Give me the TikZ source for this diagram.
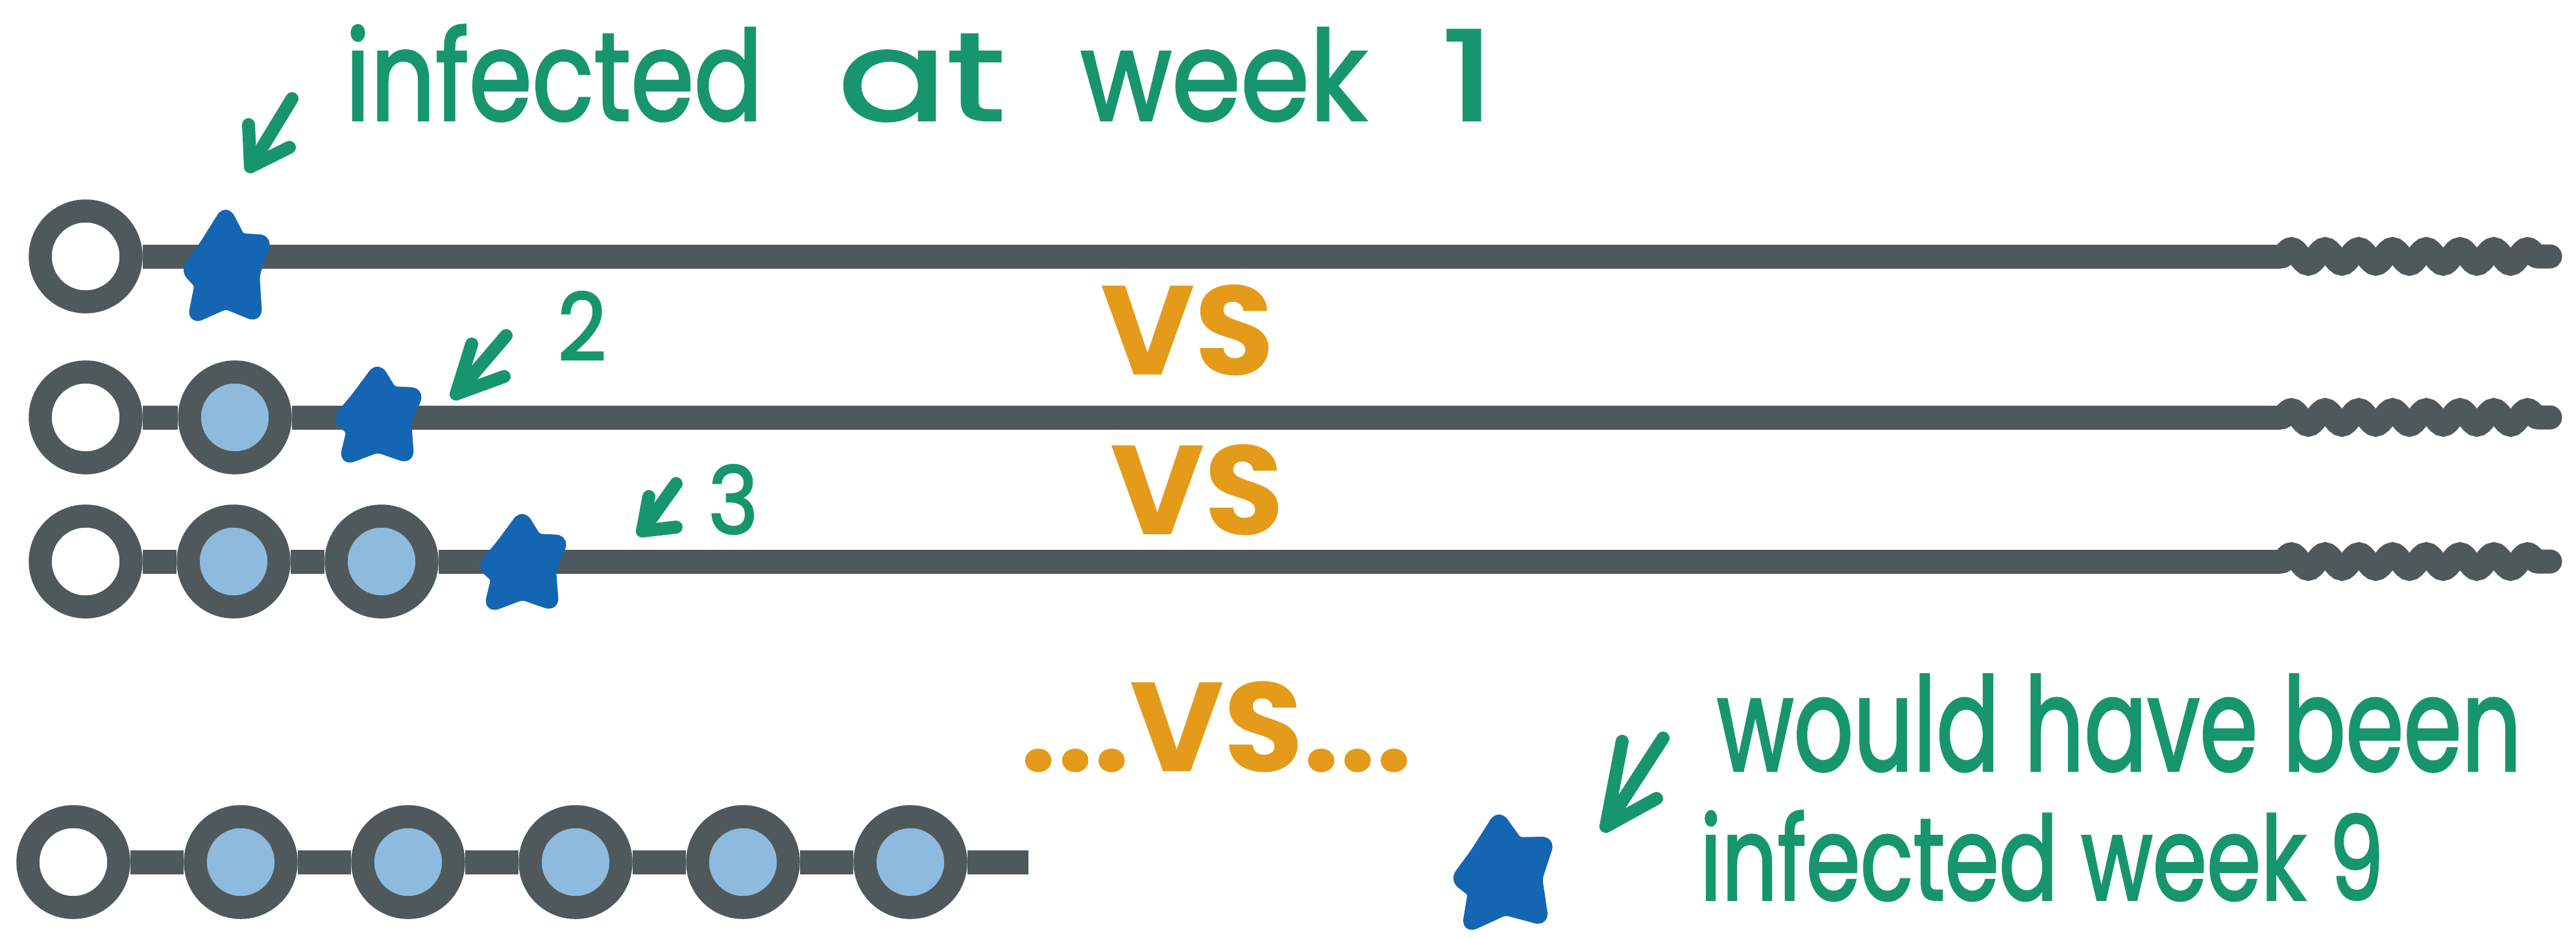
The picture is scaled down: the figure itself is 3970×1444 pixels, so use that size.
\documentclass[tikz,border=0pt]{standalone}
\usepackage{fontspec}
\usepackage{graphicx}
\setmainfont{Poppins}
\newfontfamily\handfont{Poppins}[FakeBold=2]
\usetikzlibrary{decorations.pathmorphing}
\definecolor{lgray}{HTML}{4F595B}
\definecolor{lblue}{HTML}{8EBADD}
\definecolor{sblue}{HTML}{1466B2}
\definecolor{hgreen}{HTML}{17966E}
\definecolor{horange}{HTML}{E49B1A}
\tikzset{
  ring/.style={circle, draw=lgray, line width=35.5pt, minimum size=140pt, inner sep=0pt, fill=lblue},
  firstring/.style={ring, fill=white},
  tl/.style={draw=lgray, line width=37pt},
  wavy/.style={draw=lgray, line width=37pt, line cap=round, decorate,
    decoration={snake, amplitude=11pt, segment length=52pt, post length=0pt}},
  greentext/.style={text=hgreen, font=\handfont\fontsize{160}{190}\selectfont, inner sep=0pt},
  numtext/.style={text=hgreen, font=\handfont\fontsize{125}{150}\selectfont, inner sep=0pt},
  vstext/.style={text=horange, font=\bfseries\fontsize{195}{220}\selectfont, inner sep=0pt},
  harrow/.style={draw=hgreen, line width=20pt, line cap=round, line join=round},
  handstar/.pic={
    \filldraw[fill=sblue, draw=sblue, line width=20pt, line join=round, rounded corners=8pt]
      (0,-72) -- (21,-38) -- (60,-36) -- (42,8) -- (46,60) -- (0,44)
      -- (-48,62) -- (-38,20) -- (-58,2) -- (-31,-30) -- cycle;
  }
}
\begin{document}
\begin{tikzpicture}[x=1pt, y=-1pt]
\useasboundingbox (0,0) rectangle (3970,1444);
\fill[white] (0,0) rectangle (3970,1444);

% ---- row coordinates
\coordinate (w1s) at (3515,395);
\coordinate (w1e) at (3930,395);
\coordinate (w2s) at (3515,643);
\coordinate (w2e) at (3930,643);
\coordinate (w3s) at (3515,865);
\coordinate (w3e) at (3930,865);
\coordinate (e4) at (1585,1328);

% ---- row 1
\node[firstring] (r1a) at (132,395) {};
\draw[tl] (r1a) -- (w1s);
\draw[wavy] (w1s) -- (w1e);

% ---- row 2
\node[firstring] (r2a) at (132,643) {};
\node[ring] (r2b) at (362,643) {};
\draw[tl] (r2a) -- (r2b);
\draw[tl] (r2b) -- (w2s);
\draw[wavy] (w2s) -- (w2e);

% ---- row 3
\node[firstring] (r3a) at (132,865) {};
\node[ring] (r3b) at (360,865) {};
\node[ring] (r3c) at (588,865) {};
\draw[tl] (r3a) -- (r3b);
\draw[tl] (r3b) -- (r3c);
\draw[tl] (r3c) -- (w3s);
\draw[wavy] (w3s) -- (w3e);

% ---- row 4
\node[firstring] (r4a) at (113,1328) {};
\node[ring] (r4b) at (371,1328) {};
\node[ring] (r4c) at (629,1328) {};
\node[ring] (r4d) at (887,1328) {};
\node[ring] (r4e) at (1145,1328) {};
\node[ring] (r4f) at (1403,1328) {};
\draw[tl] (r4a) -- (r4b);
\draw[tl] (r4b) -- (r4c);
\draw[tl] (r4c) -- (r4d);
\draw[tl] (r4d) -- (r4e);
\draw[tl] (r4e) -- (r4f);
\draw[tl] (r4f) -- (e4);

% ---- stars
\coordinate (s1) at (348,414);
\coordinate (s2) at (582,643);
\coordinate (s3) at (805,870);
\coordinate (s4) at (2316,1347);
\pic[yscale=1.18] at (s1) {handstar};
\pic at (s2) {handstar};
\pic at (s3) {handstar};
\pic[scale=1.2, rotate=4] at (s4) {handstar};

% ---- labels
\node[greentext, anchor=base west] (t1) at (532,185)
  {\makebox[1772pt][s]{\scalebox{0.98}[1.2]{infected} \scalebox{1.55}[1.2]{at} \scalebox{1.07}[1.2]{week} \scalebox{1.6}[1.2]{1}}};
\node[numtext, anchor=base] (n2) at (897,555) {\scalebox{1.05}[1.15]{2}};
\node[numtext, anchor=base] (n3) at (1130,822) {\scalebox{1.05}[1.15]{3}};
\node[greentext, anchor=base west] (t4a) at (2646,1187) {\scalebox{0.9}[1.25]{would have been}};
\node[greentext, anchor=base west] (t4b) at (2620,1386) {\scalebox{0.84}[1.12]{infected week 9}};

\node[vstext, anchor=base] (vs1) at (1830,577) {\scalebox{1.02}[1]{VS}};
\node[vstext, anchor=base] (vs2) at (1845,823) {\scalebox{1.02}[1]{VS}};
\node[vstext, anchor=base] (vs3) at (1875,1188) {\scalebox{1.02}[1]{...VS...}};

% ---- hand arrows
\coordinate (a1t) at (450,152);
\coordinate (a1h) at (386,257);
\coordinate (a1u) at (383,192);
\coordinate (a1r) at (446,227);
\draw[harrow] (a1t) -- (a1h);
\draw[harrow] (a1u) -- (a1h) -- (a1r);

\coordinate (a2t) at (780,517);
\coordinate (a2h) at (703,607);
\coordinate (a2u) at (727,530);
\coordinate (a2r) at (777,580);
\draw[harrow] (a2t) -- (a2h);
\draw[harrow] (a2u) -- (a2h) -- (a2r);

\coordinate (a3t) at (1042,745);
\coordinate (a3h) at (990,818);
\coordinate (a3u) at (1000,765);
\coordinate (a3r) at (1042,812);
\draw[harrow] (a3t) -- (a3h);
\draw[harrow] (a3u) -- (a3h) -- (a3r);

\coordinate (a4t) at (2563,1137);
\coordinate (a4h) at (2475,1273);
\coordinate (a4u) at (2500,1142);
\coordinate (a4r) at (2553,1230);
\draw[harrow] (a4t) -- (a4h);
\draw[harrow] (a4u) -- (a4h) -- (a4r);
\end{tikzpicture}
\end{document}
